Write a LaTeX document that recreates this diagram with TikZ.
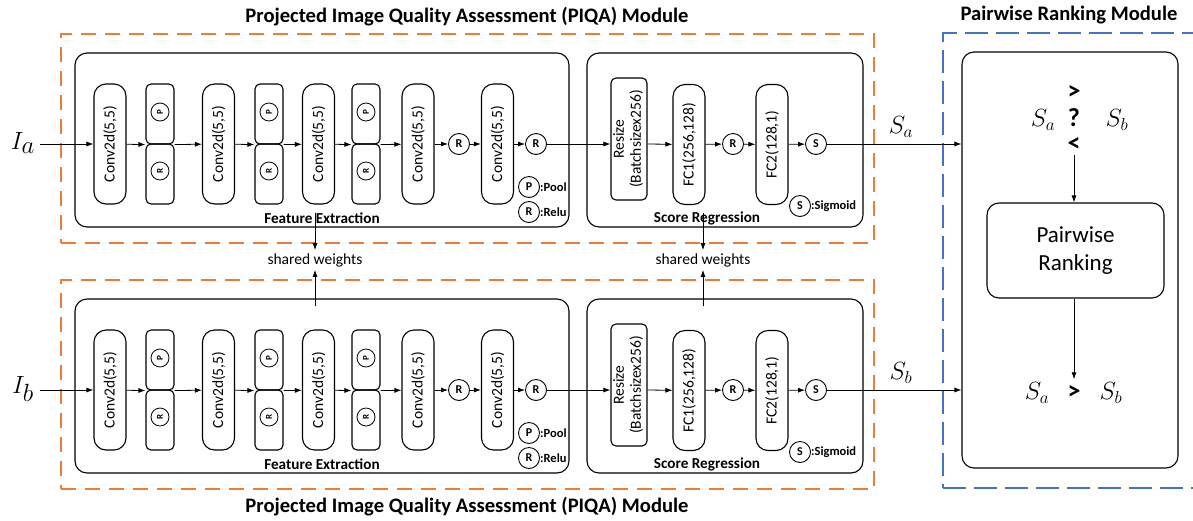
\documentclass[tikz,border=0pt]{standalone}
\usepackage{fontspec}
\setmainfont{Carlito}
\usetikzlibrary{arrows.meta}
\definecolor{piqaorange}{HTML}{ED7D31}
\definecolor{rankblue}{HTML}{4472C4}
\tikzset{
  arr/.style={-{Latex[length=7pt,width=5pt]}, line width=0.8pt},
  piqabox/.style={draw=piqaorange, line width=2.3pt, dash pattern=on 15pt off 9pt, minimum width=813pt, minimum height=209pt, inner sep=0pt},
  rankbox/.style={draw=rankblue, line width=2.3pt, dash pattern=on 23pt off 8pt, inner sep=0pt},
  stage/.style={draw, line width=1.1pt, rounded corners=12pt, inner sep=0pt, minimum height=174pt},
  layer/.style={draw, line width=1.1pt, rounded corners=12pt, inner sep=0pt, minimum width=32pt, minimum height=120pt, font=\fontsize{15.5}{17}\selectfont},
  half/.style={draw, line width=1.1pt, rounded corners=5pt, inner sep=0pt, minimum width=28pt, minimum height=60pt},
  mini/.style={draw, circle, line width=0.8pt, inner sep=0pt, minimum size=18pt, font=\bfseries\fontsize{9}{9}\selectfont},
  op/.style={draw, circle, line width=0.9pt, inner sep=0pt, minimum size=21pt, font=\bfseries\fontsize{12}{12}\selectfont},
  legtext/.style={anchor=west, inner sep=0pt, font=\bfseries\fontsize{12.5}{12.5}\selectfont},
  stagelabel/.style={font=\bfseries\fontsize{15.2}{15.2}\selectfont, inner sep=0pt},
  title/.style={font=\bfseries\fontsize{20.6}{20.6}\selectfont, inner sep=0pt},
  sym/.style={font=\bfseries\fontsize{26}{26}\selectfont, inner sep=0pt, text height=15pt, text depth=0pt},
  mathlbl/.style={font=\fontsize{24}{24}\selectfont, inner sep=0pt},
  inlbl/.style={font=\fontsize{34}{34}\selectfont, inner sep=0pt},
  swlbl/.style={font=\fontsize{15.5}{15.5}\selectfont, inner sep=0pt},
}
\begin{document}
\begin{tikzpicture}[x=1pt,y=-1pt]
\useasboundingbox (0,0) rectangle (1193,520);
\fill[white] (0,0) rectangle (1193,520);

\foreach \r/\dy/\I/\ty in {a/0/{I_a}/17,b/246/{I_b}/261}{
\begin{scope}[yshift=-\dy pt]
  % containers
  \node[piqabox] (o\r) at (467.5,138.5) {};
  \node[title] (t\r) at (467,\ty) {Projected Image Quality Assessment (PIQA) Module};
  \node[stage, minimum width=494pt] (fe\r) at (322,140) {};
  \node[stage, minimum width=276pt] (sr\r) at (725,140) {};
  \node[stagelabel] (fel\r) at (322,218) {Feature Extraction};
  \node[stagelabel] (srl\r) at (707,218) {Score Regression};
  % feature extraction layers
  \node[layer] (c1\r) at (110,144) {\rotatebox{90}{Conv2d(5,5)}};
  \node[half] (p1t\r) at (160,114) {}; \node[half] (p1b\r) at (160,174) {};
  \node[layer] (c2\r) at (218.5,144) {\rotatebox{90}{Conv2d(5,5)}};
  \node[half] (p2t\r) at (269,114) {}; \node[half] (p2b\r) at (269,174) {};
  \node[layer] (c3\r) at (318.5,144) {\rotatebox{90}{Conv2d(5,5)}};
  \node[half] (p3t\r) at (366,114) {}; \node[half] (p3b\r) at (366,174) {};
  \node[layer] (c4\r) at (418,144) {\rotatebox{90}{Conv2d(5,5)}};
  \node[op] (r4\r) at (459,144) {R};
  \node[layer] (c5\r) at (497.5,144) {\rotatebox{90}{Conv2d(5,5)}};
  \node[op] (r5\r) at (536,144) {R};
  \foreach \k in {1,2,3}{
    \node[mini] (pp\k\r) at ([yshift=2pt]p\k t\r) {\rotatebox{90}{P}};
    \node[mini] (rr\k\r) at ([yshift=3pt]p\k b\r) {\rotatebox{90}{R}};
  }
  % legend
  \node[op] (lp\r) at (529,187) {P};
  \node[legtext] (lpt\r) at (lp\r.east) {:Pool};
  \node[op] (lr\r) at (529,212) {R};
  \node[legtext] (lrt\r) at (lr\r.east) {:Relu};
  % score regression layers
  \node[layer, rounded corners=5pt, minimum width=36pt, minimum height=122pt] (rs\r) at (629,139)
     {\rotatebox{90}{\begin{tabular}{@{}c@{}}Resize\\(Batchsizex256)\end{tabular}}};
  \node[layer] (f1\r) at (689,144.5) {\rotatebox{90}{FC1(256,128)}};
  \node[op] (r6\r) at (733,144) {R};
  \node[layer] (f2\r) at (772,144.5) {\rotatebox{90}{FC2(128,1)}};
  \node[op] (s\r) at (816,144) {S};
  \node[op] (ls\r) at (800,206) {S};
  \node[legtext] (lst\r) at (ls\r.east) {:Sigmoid};
  % input
  \node[inlbl] (in\r) at (23,143) {$\I$};
  \coordinate (ins\r) at (40,144);
  % connectors
  \draw[arr] (ins\r) -- (c1\r);
  \draw[arr] (c1\r) -- (p1t\r.south west);
  \draw[arr] (p1t\r.south east) -- (c2\r);
  \draw[arr] (c2\r) -- (p2t\r.south west);
  \draw[arr] (p2t\r.south east) -- (c3\r);
  \draw[arr] (c3\r) -- (p3t\r.south west);
  \draw[arr] (p3t\r.south east) -- (c4\r);
  \draw[arr] (c4\r) -- (r4\r);
  \draw[arr] (r4\r) -- (c5\r);
  \draw[arr] (c5\r) -- (r5\r);
  \draw[arr] (r5\r) -- (r5\r -| rs\r.west);
  \draw[arr] (rs\r.east |- r6\r) -- (f1\r);
  \draw[arr] (f1\r) -- (r6\r);
  \draw[arr] (r6\r) -- (f2\r);
  \draw[arr] (f2\r) -- (s\r);
\end{scope}
}

% pairwise ranking module
\node[title] (tr) at (1069,15) {Pairwise Ranking Module};
\node[rankbox, minimum width=260pt, minimum height=455pt] (rk) at (1073,260.5) {};
\node[draw, line width=1.1pt, rounded corners=12pt, minimum width=216pt, minimum height=416pt] (pr) at (1070,260) {};
\node[draw, line width=1.1pt, rounded corners=12pt, minimum width=177pt, minimum height=95pt, align=center, font=\fontsize{23}{28}\selectfont] (pk) at (1075.5,250.5) {Pairwise\\Ranking};
\node[mathlbl] (qa) at (1043,120) {$S_a$};
\node[sym] (q) at (1074,119) {?};
\node[sym] (gt) at (1074,92) {>};
\node[sym] (lt) at (1074,144) {<};
\node[mathlbl] (qb) at (1117,120) {$S_b$};
\node[mathlbl] (ra) at (1037,393) {$S_a$};
\node[sym] (rgt) at (1074,392) {>};
\node[mathlbl] (rb) at (1111,393) {$S_b$};
\draw[arr] ([yshift=-3pt]lt.south) -- (lt.south |- pk.north);
\draw[arr] (pk.south -| rgt) -- ([yshift=5pt]rgt.north);

% scores into ranking
\draw[arr] (sa) -- (sa -| pr.west) node[pos=0.55, above=6pt, mathlbl] (lsa) {$S_a$};
\draw[arr] (sb) -- (sb -| pr.west) node[pos=0.55, above=6pt, mathlbl] (lsb) {$S_b$};

% shared weights
\node[swlbl] (sw1) at (315,260) {shared weights};
\node[swlbl] (sw2) at (703,260) {shared weights};
\draw[arr] ([yshift=15pt]fea.south -| sw1) -- ([yshift=3pt]sw1.north);
\draw[arr] ([yshift=-8pt]feb.north -| sw1) -- ([yshift=-3pt]sw1.south);
\draw[arr] ([yshift=15pt]sra.south -| sw2) -- ([yshift=3pt]sw2.north);
\draw[arr] ([yshift=-8pt]srb.north -| sw2) -- ([yshift=-3pt]sw2.south);
\end{tikzpicture}
\end{document}
